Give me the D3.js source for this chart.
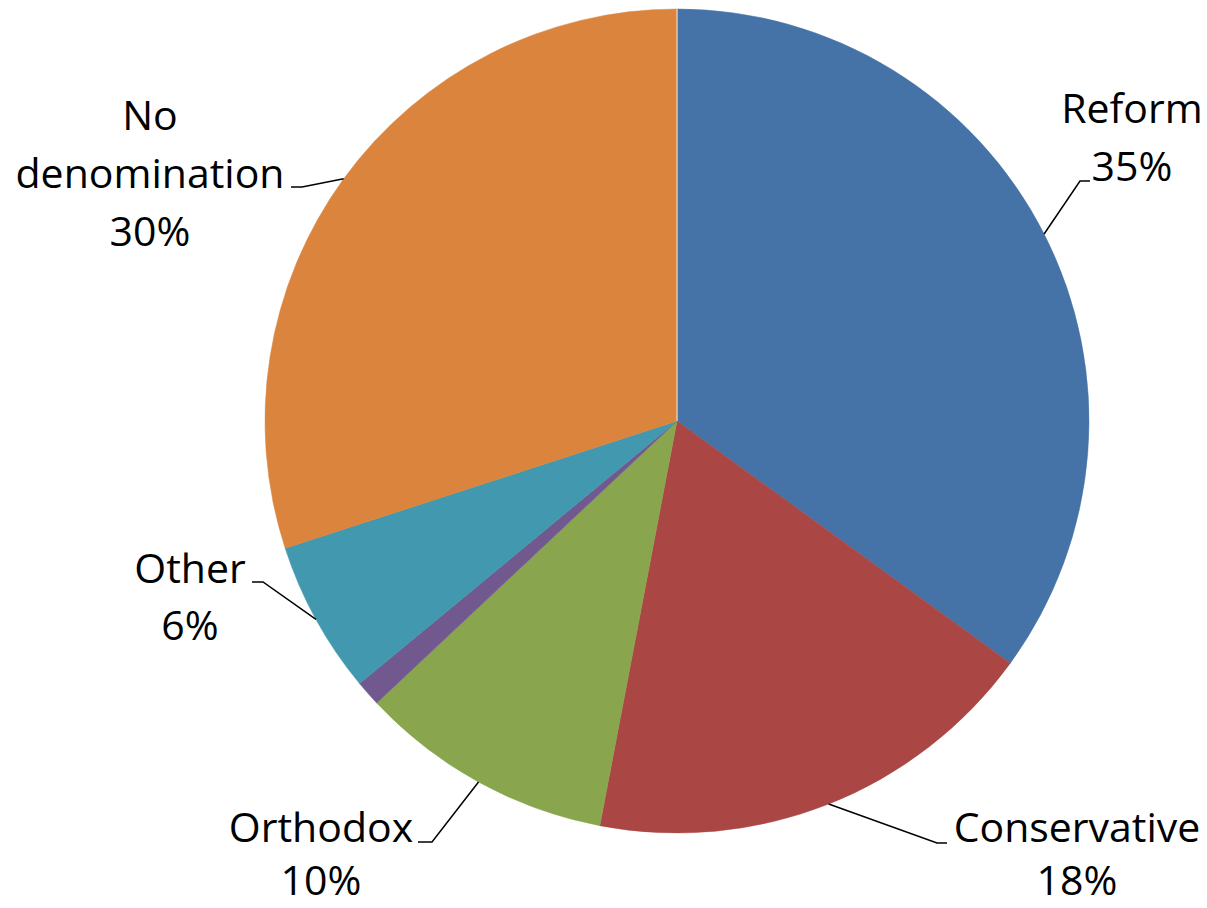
<!DOCTYPE html>
<html><head><meta charset="utf-8">
<script src="https://cdn.jsdelivr.net/npm/d3@7"></script>
<style>html,body{margin:0;padding:0;background:#fff;}svg{display:block;}</style>
</head><body>
<script>
// ---- data ----
const categories = ["Reform", "Conservative", "Orthodox", "Don't know", "Other", "No denomination"];
const values = [35, 18, 10, 1, 6, 30];
const showLabel = [true, true, true, false, true, true];
const colors = ["#4572A7", "#AA4643", "#89A54E", "#71588F", "#4198AF", "#DB843D"];

// ---- layout (label anchor + text lines) ----
const W = 1207, H = 908;
const cx = 677, cy = 421, R = 412;
const labelLayout = {
  "Reform":          {lines:["Reform"], x:1132, y:123, lh:58, elbow:[1080,181], end:[1090,181]},
  "Conservative":    {lines:["Conservative"], x:1077, y:842, lh:53, elbow:[937,843], end:[947,843]},
  "Orthodox":        {lines:["Orthodox"], x:321, y:842, lh:53, elbow:[432,842], end:[418,842]},
  "Other":           {lines:["Other"], x:190, y:583, lh:57, elbow:[263,582], end:[252,582]},
  "No denomination": {lines:["No","denomination"], x:150, y:130, lh:58, elbow:[302,187], end:[291,187]}
};

const data = categories.map((c,i)=>({name:c, value:values[i], color:colors[i], show:showLabel[i]}));
const total = d3.sum(values);

const svg = d3.select("body").append("svg").attr("width", W).attr("height", H);
const g = svg.append("g").attr("transform", `translate(${cx},${cy})`);

const pie = d3.pie().value(d=>d.value).sort(null);
const arc = d3.arc().innerRadius(0).outerRadius(R);
const arcs = pie(data);

g.selectAll("path.slice").data(arcs).join("path")
  .attr("class","slice")
  .attr("d", arc)
  .attr("fill", d=>d.data.color)
  .attr("stroke", d=>d.data.color)
  .attr("stroke-width", 0.5);

// top hairline gap
g.append("line").attr("x1",0).attr("y1",0).attr("x2",0).attr("y2",-R)
  .attr("stroke","#f4d9c2").attr("stroke-width",1.2);

const labeled = arcs.filter(d=>d.data.show);
const edgePt = d=>{
  const a = (d.startAngle + d.endAngle)/2;
  return [cx + R*Math.sin(a), cy - R*Math.cos(a)];
};

svg.selectAll("path.leader").data(labeled).join("path")
  .attr("class","leader")
  .attr("fill","none").attr("stroke","#000").attr("stroke-width",1.5)
  .attr("d", d=>{
    const L = labelLayout[d.data.name];
    const p = edgePt(d);
    return d3.line()([p, L.elbow, L.end]);
  });

const tg = svg.selectAll("text.lbl").data(labeled).join("text")
  .attr("class","lbl")
  .attr("text-anchor","middle")
  .attr("font-family","'Open Sans', sans-serif")
  .attr("font-size", 41)
  .attr("fill","#000");
tg.each(function(d){
  const L = labelLayout[d.data.name];
  const t = d3.select(this);
  const lines = L.lines.concat([Math.round(d.data.value/total*100) + "%"]);
  lines.forEach((s,i)=>{
    t.append("tspan").attr("x", L.x).attr("y", L.y + i*L.lh).text(s);
  });
});
</script>
</body></html>
